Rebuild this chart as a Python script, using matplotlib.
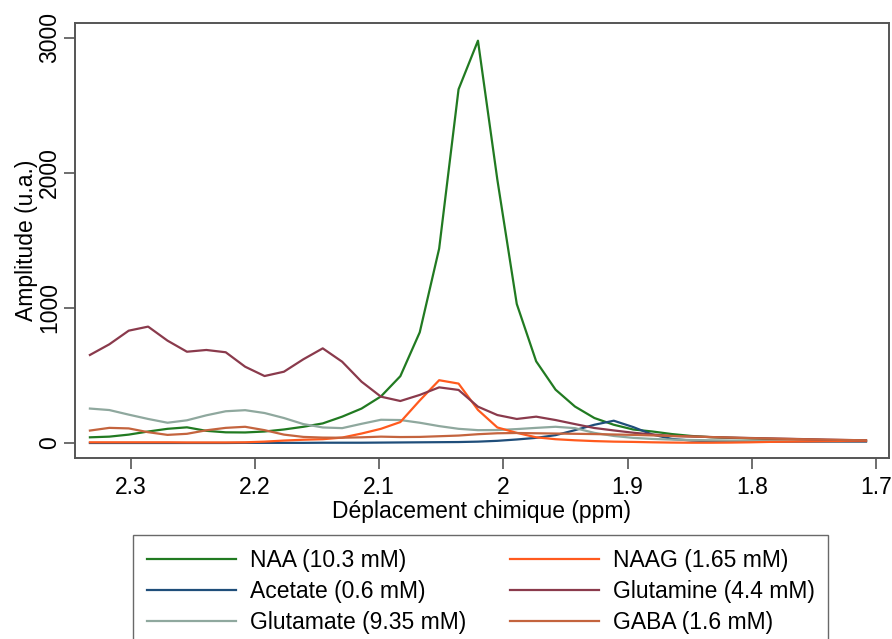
"spectres simules - amplitude vs deplacement chimique"
import numpy as np
import matplotlib
matplotlib.use("Agg")
import matplotlib.pyplot as plt

plt.rcParams['font.family'] = ['Liberation Sans', 'DejaVu Sans']

"data (read off the figure)"
ppm = np.linspace(2.333, 1.708, 41)

naa = [42, 47, 62, 85, 105, 116, 90, 79, 78, 85,
       100, 120, 145, 195, 255, 345, 495, 820, 1440, 2620,
       2980, 1950, 1030, 605, 395, 270, 185, 135, 100, 85,
       66, 52, 43, 38, 34, 30, 27, 24, 21, 18, 16]
acetate = [0, 0, 0, 0, 0, 0, 0, 0, 1, 1,
           1, 1, 2, 2, 2, 3, 4, 5, 6, 7,
           10, 16, 26, 38, 58, 95, 135, 165, 118, 62,
           30, 18, 13, 11, 10, 10, 10, 10, 10, 10, 10]
glutamate = [255, 244, 210, 178, 150, 168, 205, 235, 243, 222,
             185, 140, 115, 110, 142, 172, 170, 150, 125, 105,
             95, 96, 103, 112, 120, 110, 75, 52, 38, 30,
             25, 22, 20, 18, 17, 16, 15, 15, 14, 14, 14]
naag = [5, 5, 5, 5, 5, 4, 4, 4, 5, 10,
        18, 24, 28, 40, 70, 105, 155, 315, 465, 440,
        245, 115, 75, 42, 28, 20, 14, 10, 8, 5,
        3, 2, 2, 3, 5, 8, 10, 12, 14, 15, 15]
glutamine = [652, 731, 832, 862, 758, 676, 689, 672, 565, 496,
             528, 620, 701, 602, 454, 343, 311, 356, 412, 393,
             269, 207, 178, 195, 170, 140, 111, 93, 76, 63,
             52, 48, 44, 40, 37, 34, 31, 28, 25, 22, 20]
gaba = [92, 112, 108, 80, 60, 68, 94, 112, 120, 95,
        62, 45, 40, 39, 42, 47, 44, 45, 50, 55,
        65, 72, 74, 72, 70, 68, 66, 63, 60, 56,
        52, 48, 44, 40, 36, 33, 30, 27, 24, 22, 20]

labels = ["NAA (10.3 mM)", "Acetate (0.6 mM)", "Glutamate (9.35 mM)",
          "NAAG (1.65 mM)", "Glutamine (4.4 mM)", "GABA (1.6 mM)"]
series = [naa, acetate, glutamate, naag, glutamine, gaba]
colors = ["#217a21", "#1f4e7a", "#8fa89e", "#ff5a1e", "#8a3a4c", "#c4643e"]

"plot"
fig = plt.figure(figsize=(8.92, 6.39), dpi=100)
ax = fig.add_axes([0.0841, 0.2833, 0.9125, 0.6807])

for y, lab, c in zip(series, labels, colors):
    ax.plot(ppm, y, color=c, lw=1.6, label=lab)

ax.set_xlim(2.345, 1.6895)
ax.set_ylim(-111, 3111)
ax.set_xticks([2.3, 2.2, 2.1, 2.0, 1.9, 1.8, 1.7])
ax.set_xticklabels(["2.3", "2.2", "2.1", "2", "1.9", "1.8", "1.7"])
ax.set_yticks([0, 1000, 2000, 3000])
for lbl in ax.get_yticklabels():
    lbl.set_rotation(90)
    lbl.set_va("center")

for s in ax.spines.values():
    s.set_color("#555555")
    s.set_linewidth(1.4)
ax.tick_params(direction="out", length=8, width=1.2, color="#555555",
               labelsize=16.5)
ax.tick_params(axis="x", pad=5)
ax.tick_params(axis="y", pad=2)

ax.set_xlabel("Déplacement chimique (ppm)", fontsize=16.5, labelpad=1)
ax.set_ylabel("Amplitude (u.a.)", fontsize=16.5, labelpad=0)

leg = fig.legend(loc="upper left", bbox_to_anchor=(133 / 892, 1 - 535 / 639),
                 ncol=2, fontsize=16.5, frameon=True, fancybox=False,
                 handlelength=3.9, handletextpad=0.6, labelspacing=0.36,
                 columnspacing=1.9, borderpad=0.6, borderaxespad=0)
leg.get_frame().set_edgecolor("#444444")
leg.get_frame().set_linewidth(1.0)

fig.savefig("out.png", dpi=100)
